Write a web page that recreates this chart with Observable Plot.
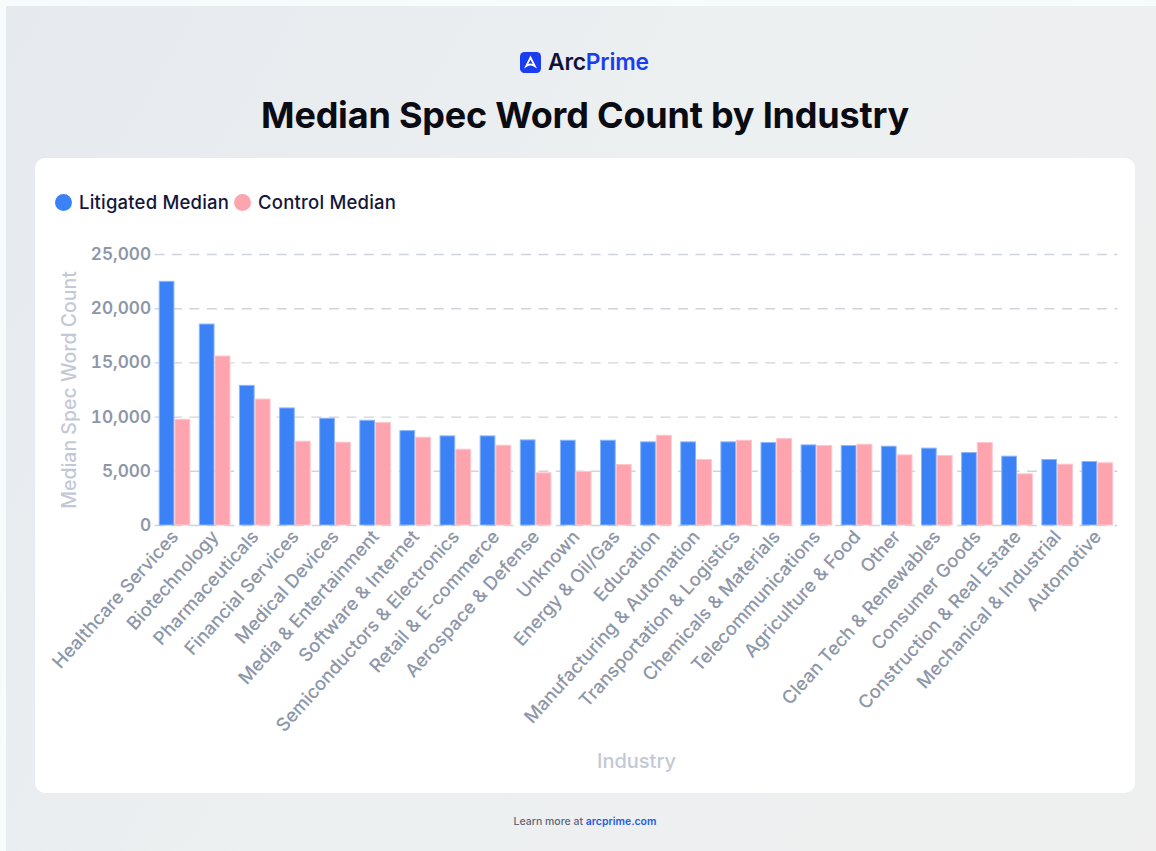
<!DOCTYPE html>
<html>
<head>
<meta charset="utf-8">
<script src="https://cdn.jsdelivr.net/npm/d3@7"></script>
<script src="https://cdn.jsdelivr.net/npm/@observablehq/plot@0.6"></script>
<style>
  html, body { margin: 0; padding: 0; }
  body { width: 1156px; height: 851px; position: relative; overflow: hidden; background: #f6fbfb; font-family: Inter, "Noto Sans", sans-serif; }
  #frame { position: absolute; left: 6px; top: 6px; right: 0; bottom: 0; background: linear-gradient(120deg, #e6e9ee 0%, #ecf0f1 45%, #efefef 100%); }
  #card { position: absolute; left: 35px; top: 158px; width: 1100px; height: 635px; background: #fff; border-radius: 10px; }
  #logo { position: absolute; left: 520px; top: 50px; display: flex; align-items: center; gap: 7px; font-size: 22.8px; font-weight: 600; line-height: 24px; color: #10123a; letter-spacing: -0.2px; }
  #logo b { font-weight: 600; color: #1a3df0; }
  h1 { position: absolute; left: 0; width: 1170px; top: 93px; margin: 0; text-align: center; font-size: 36px; line-height: 44px; font-weight: 700; color: #0b0b14; letter-spacing: -0.2px; }
  #legend { position: absolute; left: 55px; top: 191px; display: flex; align-items: center; font-size: 18.5px; line-height: 22px; font-weight: 500; letter-spacing: 0.2px; color: #14163c; }
  #legend i { width: 17px; height: 17px; border-radius: 50%; margin-right: 7px; display: block; }
  #legend span { margin-right: 5px; }
  #chart { position: absolute; left: 35px; top: 220px; }
  #foot { position: absolute; left: 0; width: 1170px; top: 815px; text-align: center; font-size: 10.5px; line-height: 14px; color: #5f6675; font-weight: 500; }
  #foot b { color: #1d5ce8; font-weight: 600; }
</style>
</head>
<body>
<div id="frame"></div>
<div id="card"></div>
<div id="logo">
  <svg width="21" height="21" viewBox="0 0 21 21"><rect width="21" height="21" rx="4.5" fill="#1a3df0"/><path d="M10.5 3.6 L17 16.4 L13.8 14.4 Q10.5 12.6 7.2 14.4 L4 16.4 Z M10.5 7.8 L8.3 11.9 Q10.5 11 12.7 11.9 Z" fill="#fff" fill-rule="evenodd"/></svg>
  <span>Arc<b>Prime</b></span>
</div>
<h1>Median Spec Word Count by Industry</h1>
<div id="legend"></div>
<div id="chart"></div>
<div id="foot">Learn more at <b>arcprime.com</b></div>
<script>
const industries = ["Healthcare Services", "Biotechnology", "Pharmaceuticals", "Financial Services", "Medical Devices", "Media & Entertainment", "Software & Internet", "Semiconductors & Electronics", "Retail & E-commerce", "Aerospace & Defense", "Unknown", "Energy & Oil/Gas", "Education", "Manufacturing & Automation", "Transportation & Logistics", "Chemicals & Materials", "Telecommunications", "Agriculture & Food", "Other", "Clean Tech & Renewables", "Consumer Goods", "Construction & Real Estate", "Mechanical & Industrial", "Automotive"];
const litigated = [22480, 18540, 12880, 10800, 9850, 9660, 8710, 8220, 8220, 7850, 7820, 7820, 7670, 7670, 7670, 7610, 7390, 7330, 7270, 7090, 6690, 6350, 6040, 5860];
const control = [9755, 15590, 11620, 7730, 7640, 9450, 8100, 6990, 7360, 4815, 4940, 5580, 8280, 6040, 7820, 7975, 7330, 7450, 6470, 6410, 7610, 4720, 5610, 5740];
const seriesNames = ["Litigated Median", "Control Median"];
const seriesColors = ["#3b82f6", "#fda4af"];
const yTicks = [0, 5000, 10000, 15000, 20000, 25000];

const rowsFor = (values, series) => industries.map((industry, i) => ({industry, series, value: values[i]}));
const tickColor = "#8e97a8";
const titleColor = "#c3c8d6";

const chart = Plot.plot({
  width: 1100,
  height: 570,
  marginTop: 34,
  marginBottom: 265,
  marginLeft: 119.5,
  marginRight: 17.6,
  style: {background: "transparent", fontFamily: "Inter, 'Noto Sans', sans-serif", overflow: "visible"},
  x: {domain: industries, padding: 0, round: false},
  y: {domain: [0, 25000]},
  color: {domain: seriesNames, range: seriesColors},
  marks: [
    Plot.ruleY(yTicks, {stroke: "#cfd4dc", strokeWidth: 1.4, strokeDasharray: "10 7.45"}),
    // Two bars share each industry band; the insets split the band into side-by-side slots.
    Plot.barY(rowsFor(litigated, seriesNames[0]), {x: "industry", y: "value", fill: "series", stroke: "#8db6fa", insetLeft: 4.7, insetRight: 20.7}),
    Plot.barY(rowsFor(control, seriesNames[1]), {x: "industry", y: "value", fill: "series", stroke: "#fec6cd", insetLeft: 20.4, insetRight: 4.8}),
    // Tick labels and axis titles are separate axes because they use different greys.
    Plot.axisY({ticks: yTicks, tickSize: 0, tickPadding: 4, tickFormat: d3.format(","), fontSize: 17.2, fontWeight: 600, color: tickColor, label: null}),
    Plot.axisX({tickSize: 0, tickPadding: 8, tickRotate: -48, fontSize: 18.4, fontWeight: 500, color: tickColor, label: null}),
    Plot.axisY({ticks: [], tickSize: 0, fontSize: 19.5, fontWeight: 500, color: titleColor, label: "Median Spec Word Count", labelAnchor: "center", labelArrow: "none", labelOffset: 93}),
    Plot.axisX({ticks: [], tickSize: 0, fontSize: 20, fontWeight: 500, color: titleColor, label: "Industry", labelAnchor: "center", labelArrow: "none", labelOffset: 242})
  ]
});
document.getElementById("chart").append(chart);

const legend = document.getElementById("legend");
seriesNames.forEach((name, i) => {
  const swatch = document.createElement("i");
  swatch.style.background = seriesColors[i];
  const label = document.createElement("span");
  label.textContent = name;
  legend.append(swatch, label);
});
</script>
</body>
</html>
